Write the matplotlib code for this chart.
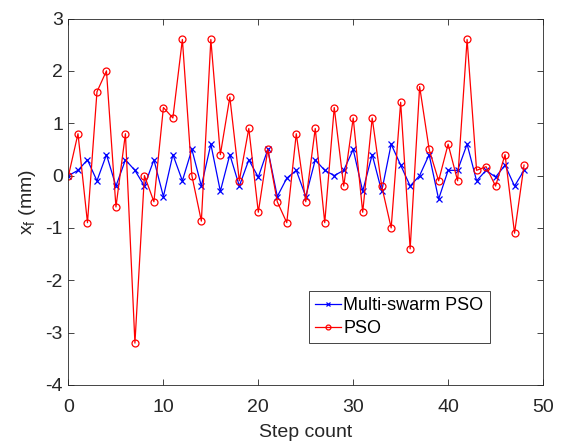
import matplotlib
matplotlib.use("Agg")
import matplotlib.pyplot as plt
import numpy as np

plt.rcParams['font.family'] = ['Liberation Sans', 'DejaVu Sans']
plt.rcParams['axes.unicode_minus'] = False

steps = list(range(49))
multi_swarm = [0, 0.1, 0.3, -0.1, 0.4, -0.2, 0.3, 0.1, -0.2, 0.3,
               -0.4, 0.4, -0.1, 0.5, -0.2, 0.6, -0.3, 0.4, -0.2, 0.3,
               -0.03, 0.5, -0.4, -0.05, 0.1, -0.4, 0.3, 0.1, 0, 0.1,
               0.5, -0.3, 0.4, -0.3, 0.6, 0.2, -0.2, 0, 0.4, -0.45,
               0.1, 0.1, 0.6, -0.1, 0.1, -0.03, 0.2, -0.2, 0.1]
pso = [0, 0.8, -0.9, 1.6, 2.0, -0.6, 0.8, -3.2, 0, -0.5,
       1.3, 1.1, 2.6, 0, -0.87, 2.6, 0.4, 1.5, -0.1, 0.9,
       -0.7, 0.5, -0.5, -0.9, 0.8, -0.5, 0.9, -0.9, 1.3, -0.2,
       1.1, -0.7, 1.1, -0.2, -1.0, 1.4, -1.4, 1.7, 0.5, -0.1,
       0.6, -0.1, 2.6, 0.1, 0.17, -0.2, 0.4, -1.1, 0.2]
xticks = [0, 10, 20, 30, 40, 50]
yticks = [-4, -3, -2, -1, 0, 1, 2, 3]

dark = '#262626'
fig = plt.figure(figsize=(5.67, 4.44), dpi=100)
ax = fig.add_axes([0.1208, 0.1329, 0.8369, 0.8254])

ax.plot(steps, multi_swarm, color='#0000ff', lw=0.9, marker='x', ms=4, mew=0.9,
        label='Multi-swarm PSO')
ax.plot(steps, pso, color='#ff0000', lw=0.9, marker='o', ms=5, mfc='none', mew=0.9,
        label='PSO')

ax.set_xlim(0, 50)
ax.set_ylim(-4, 3)
ax.set_xticks(xticks)
ax.set_yticks(yticks)
ax.tick_params(direction='in', top=True, right=True, labelsize=14, length=4,
               width=0.6, color=dark, labelcolor=dark)
ax.tick_params(axis='x', pad=10)
ax.tick_params(axis='y', pad=4)
for s in ax.spines.values():
    s.set_linewidth(0.6)
    s.set_color(dark)
ax.set_xlabel('Step count', fontsize=14, labelpad=6, color=dark)
ax.set_ylabel(r'x$_\mathregular{f}$ (mm)', fontsize=14, labelpad=5.5, color=dark)

leg = ax.legend(loc='upper left', bbox_to_anchor=(0.507, 0.257), fancybox=False,
                framealpha=1, edgecolor=dark, fontsize=13, borderpad=0.35,
                handlelength=1.4, handletextpad=0.15, labelspacing=0.33,
                borderaxespad=0, markerscale=0.7)
leg.get_frame().set_linewidth(0.6)

fig.savefig('out.png', dpi=100)
